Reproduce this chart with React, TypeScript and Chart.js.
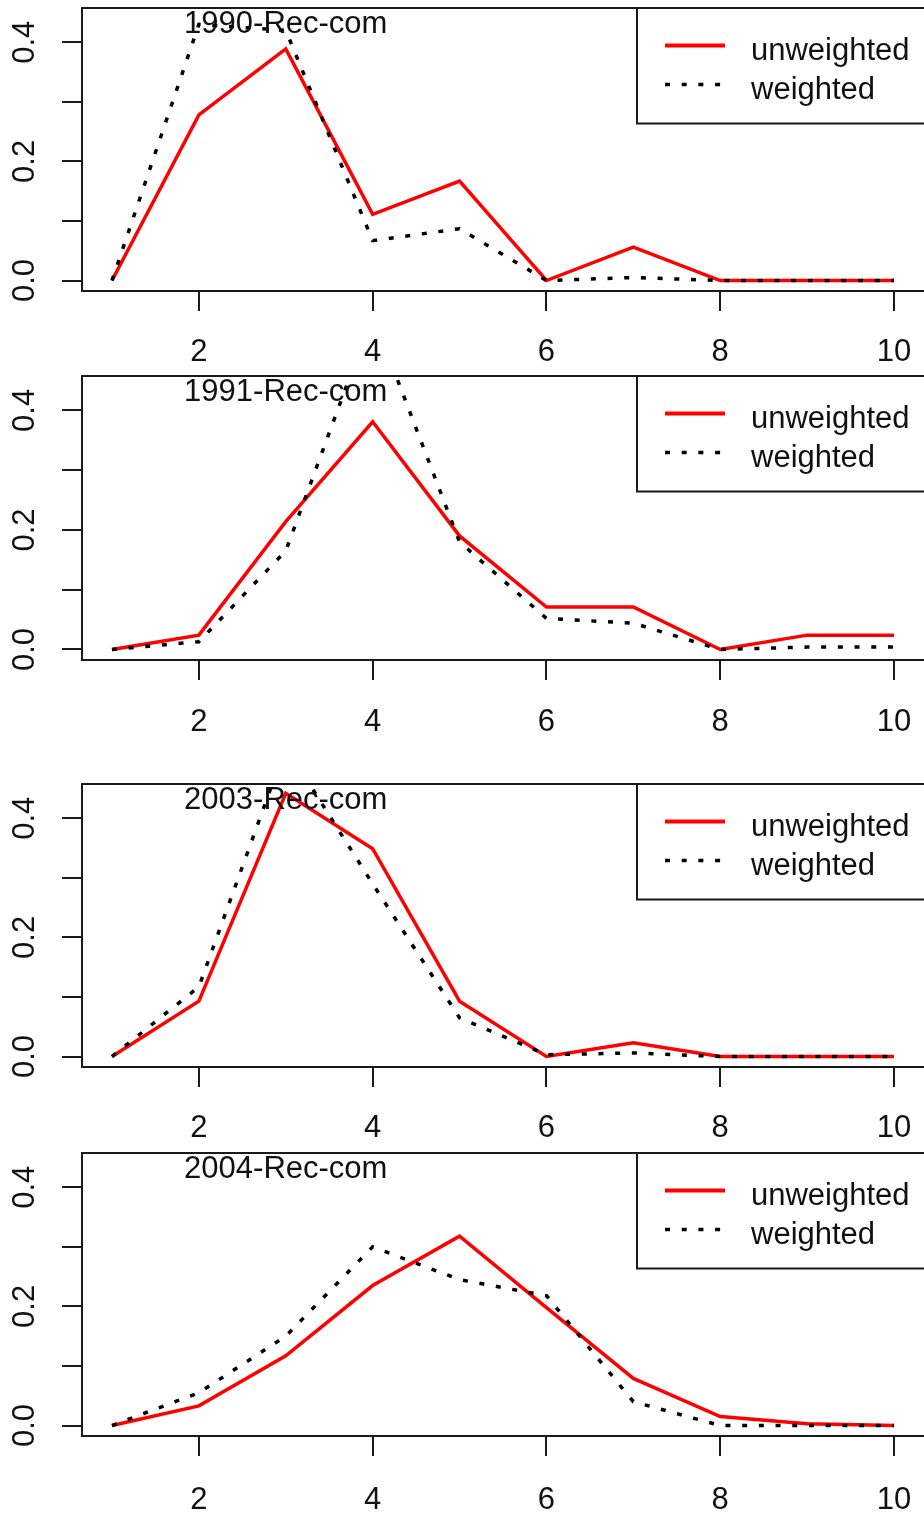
import React, { useEffect, useRef } from "react";
import { Chart, registerables } from "chart.js";

Chart.register(...registerables);

// ---------------- data ----------------
const xValues = [1, 2, 3, 4, 5, 6, 7, 8, 9, 10];
const xTickValues = [2, 4, 6, 8, 10];
const yTickValues = [0, 0.1, 0.2, 0.3, 0.4];
const yLabeledTicks = [0, 0.2, 0.4];
const panelTitles = ["1990-Rec-com", "1991-Rec-com", "2003-Rec-com", "2004-Rec-com"];
const legendLabels = ["unweighted", "weighted"];

const unweighted1990 = [0, 0.278, 0.389, 0.111, 0.167, 0, 0.056, 0, 0, 0];
const weighted1990 = [0, 0.43, 0.42, 0.067, 0.087, 0, 0.005, 0, 0, 0];

const unweighted1991 = [0, 0.024, 0.214, 0.381, 0.19, 0.071, 0.071, 0, 0.024, 0.024];
const weighted1991 = [0, 0.013, 0.165, 0.56, 0.18, 0.052, 0.044, 0, 0.004, 0.004];

const unweighted2003 = [0, 0.093, 0.442, 0.349, 0.093, 0, 0.023, 0, 0, 0];
const weighted2003 = [0, 0.117, 0.52, 0.29, 0.065, 0.003, 0.006, 0, 0, 0];

const unweighted2004 = [0, 0.033, 0.117, 0.235, 0.318, 0.198, 0.079, 0.015, 0.003, 0];
const weighted2004 = [0, 0.055, 0.15, 0.3, 0.245, 0.218, 0.04, 0, 0, 0];

// ---------------- styling ----------------
const FONT = '"Liberation Sans", Arial, Helvetica, sans-serif';
const FONT_SIZE = 31;
const TEXT_COLOR = "#111111";
const LINE_COLOR = "#1a1a1a";
const RED = "#ff0000";
const DOT_DASH = [5, 11.7];

const decorPlugin = {
  id: "decor",
  afterDatasetsDraw(chart: any, _args: any, opts: any) {
    const { ctx, chartArea: a, scales } = chart;
    ctx.save();
    // plot box
    ctx.strokeStyle = LINE_COLOR;
    ctx.lineWidth = 2;
    ctx.setLineDash([]);
    ctx.strokeRect(a.left, a.top, a.right - a.left + 6, a.bottom - a.top);

    // title text inside plot
    ctx.font = `${FONT_SIZE}px ${FONT}`;
    ctx.fillStyle = TEXT_COLOR;
    ctx.textAlign = "center";
    ctx.textBaseline = "alphabetic";
    ctx.fillText(opts.title, scales.x.getPixelForValue(3), a.top + 25);

    // legend box
    const lx = 637;
    const lh = 115.5;
    ctx.fillStyle = "#ffffff";
    ctx.fillRect(lx, a.top, a.right - lx + 6, lh);
    ctx.strokeStyle = LINE_COLOR;
    ctx.lineWidth = 2;
    ctx.strokeRect(lx, a.top, a.right - lx + 6, lh);

    const y1 = a.top + 37.5;
    const y2 = a.top + 76.5;
    ctx.lineCap = "butt";
    ctx.lineWidth = 4;
    ctx.strokeStyle = RED;
    ctx.beginPath();
    ctx.moveTo(665, y1);
    ctx.lineTo(725, y1);
    ctx.stroke();

    ctx.strokeStyle = "#000000";
    ctx.lineWidth = 3.5;
    ctx.setLineDash(DOT_DASH);
    ctx.beginPath();
    ctx.moveTo(665, y2);
    ctx.lineTo(725, y2);
    ctx.stroke();
    ctx.setLineDash([]);

    ctx.fillStyle = TEXT_COLOR;
    ctx.textAlign = "left";
    ctx.textBaseline = "alphabetic";
    ctx.fillText(legendLabels[0], 751, y1 + 14.5);
    ctx.fillText(legendLabels[1], 751, y2 + 14.5);
    ctx.restore();
  },
};

type PanelProps = {
  title: string;
  unweighted: number[];
  weighted: number[];
  top: number;
  height: number;
  plotHeight: number;
  labelPad: number;
};

function Panel({ title, unweighted, weighted, top, height, plotHeight, labelPad }: PanelProps) {
  const ref = useRef<HTMLCanvasElement>(null);
  useEffect(() => {
    const canvas = ref.current;
    if (!canvas) return;
    const padTop = 8;
    const chart = new Chart(canvas, {
      type: "line",
      data: {
        datasets: [
          {
            label: legendLabels[0],
            data: xValues.map((x, i) => ({ x, y: unweighted[i] })),
            borderColor: RED,
            borderWidth: 3.5,
            pointRadius: 0,
            tension: 0,
            fill: false,
            order: 1,
          },
          {
            label: legendLabels[1],
            data: xValues.map((x, i) => ({ x, y: weighted[i] })),
            borderColor: "#000000",
            borderWidth: 3.5,
            borderDash: DOT_DASH,
            borderCapStyle: "butt",
            pointRadius: 0,
            tension: 0,
            fill: false,
            order: 0,
          },
        ],
      },
      options: {
        animation: false,
        responsive: false,
        devicePixelRatio: 1,
        layout: { padding: { top: padTop, left: 0, right: 0, bottom: 0 } },
        plugins: {
          legend: { display: false },
          tooltip: { enabled: false },
          decor: { title },
        } as any,
        scales: {
          x: {
            type: "linear",
            min: 0.655,
            max: 10.345,
            afterBuildTicks: (s: any) => {
              s.ticks = xTickValues.map((v) => ({ value: v }));
            },
            afterFit: (s: any) => {
              s.height = height - padTop - plotHeight;
              s.paddingLeft = 0;
              s.paddingRight = 0;
            },
            border: { display: false },
            grid: {
              drawOnChartArea: false,
              drawTicks: true,
              tickLength: 20,
              tickColor: LINE_COLOR,
              lineWidth: 2,
            },
            ticks: {
              autoSkip: false,
              maxRotation: 0,
              minRotation: 0,
              padding: labelPad,
              color: TEXT_COLOR,
              font: { family: FONT, size: FONT_SIZE },
              callback: (v: any) => String(v),
            },
          },
          y: {
            type: "linear",
            min: -0.0176,
            max: 0.4576,
            afterBuildTicks: (s: any) => {
              s.ticks = yTickValues.map((v) => ({ value: v }));
            },
            afterFit: (s: any) => {
              s.width = 82;
              s.paddingTop = 0;
              s.paddingBottom = 0;
            },
            border: { display: false },
            grid: {
              drawOnChartArea: false,
              drawTicks: true,
              tickLength: 20,
              tickColor: LINE_COLOR,
              lineWidth: 2,
            },
            ticks: {
              autoSkip: false,
              minRotation: 90,
              maxRotation: 90,
              crossAlign: "center",
              padding: 15,
              color: TEXT_COLOR,
              font: { family: FONT, size: FONT_SIZE },
              callback: (v: any) =>
                yLabeledTicks.some((t) => Math.abs(t - v) < 1e-9) ? Number(v).toFixed(1) : "",
            },
          },
        },
      } as any,
      plugins: [decorPlugin],
    });
    return () => chart.destroy();
  }, [title, unweighted, weighted, top, height, plotHeight, labelPad]);
  return (
    <canvas
      ref={ref}
      width={924}
      height={height}
      style={{ position: "absolute", left: 0, top, display: "block", width: 924, height }}
    />
  );
}

export default function App() {
  const panels = [
    { title: panelTitles[0], unweighted: unweighted1990, weighted: weighted1990, top: 0, height: 368, plotHeight: 283, labelPad: 23 },
    { title: panelTitles[1], unweighted: unweighted1991, weighted: weighted1991, top: 368, height: 408, plotHeight: 284, labelPad: 24 },
    { title: panelTitles[2], unweighted: unweighted2003, weighted: weighted2003, top: 776, height: 369, plotHeight: 283, labelPad: 23 },
    { title: panelTitles[3], unweighted: unweighted2004, weighted: weighted2004, top: 1145, height: 369, plotHeight: 283, labelPad: 26 },
  ];
  return (
    <div
      style={{
        position: "absolute",
        left: 0,
        top: 0,
        width: 924,
        height: 1514,
        overflow: "hidden",
        background: "#ffffff",
      }}
    >
      {panels.map((p) => (
        <Panel key={p.title} {...p} />
      ))}
    </div>
  );
}
